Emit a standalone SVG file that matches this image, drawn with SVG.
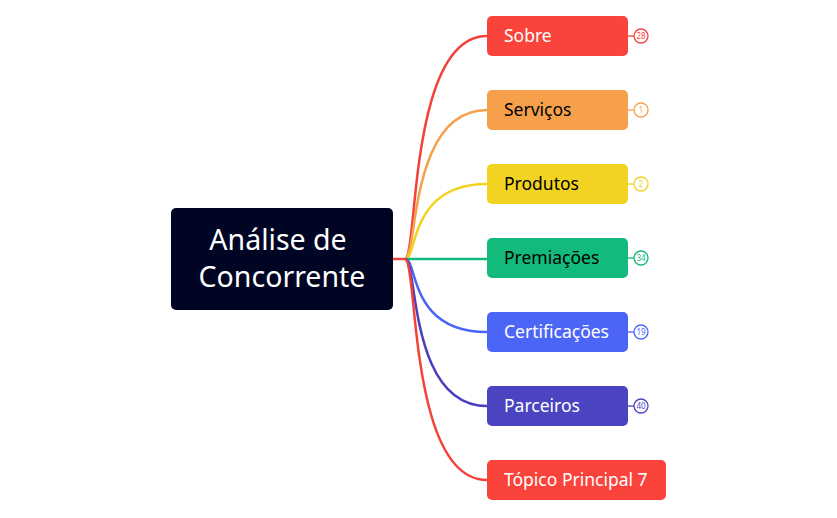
<svg xmlns="http://www.w3.org/2000/svg" width="837" height="518" viewBox="0 0 837 518">
<style>
.n{font-family:"Noto Sans",sans-serif;font-size:17.5px}
.b{fill:#fff;stroke-width:1.3}
.bt{font-family:"Noto Sans",sans-serif;font-size:8px;text-anchor:middle}
.c{fill:none;stroke-width:2.5}
</style>
<rect width="837" height="518" fill="#fff"/>
<g id="connectors">
<path class="c" stroke="#f2423a" d="M393 259H405"/>
<path class="c" stroke="#f2423a" d="M405 259C418 259 408 36 487 36"/>
<path class="c" stroke="#f5a04a" d="M405 259C418 259 408 110 487 110"/>
<path class="c" stroke="#f2d21e" d="M405 259C418 259 408 184 487 184"/>
<path class="c" stroke="#12b97a" d="M405 259H487"/>
<path class="c" stroke="#4a64f5" d="M405 259C418 259 408 332 487 332"/>
<path class="c" stroke="#4a3fbd" d="M405 259C418 259 408 406 487 406"/>
<path class="c" stroke="#f2423a" d="M405 259C418 259 408 480 487 480"/>
</g>
<g id="center"><rect x="171" y="208" width="222" height="102" rx="5" fill="#000523"/>
<text x="278" y="250" font-family="Noto Sans,sans-serif" font-size="28.5" fill="#fff" text-anchor="middle">Análise de</text>
<text x="282" y="287" font-family="Noto Sans,sans-serif" font-size="28.5" fill="#fff" text-anchor="middle">Concorrente</text></g>
<g id="n1"><rect x="487" y="16" width="141" height="40" rx="5" fill="#f9433b"/><text class="n" x="504" y="42" fill="#fff">Sobre</text>
<path d="M628 36h6" stroke="#f9433b" stroke-width="1.3"/><circle class="b" cx="641" cy="36" r="7" stroke="#f9433b"/><text class="bt" x="641" y="39" fill="#f9433b">28</text></g>
<g id="n2"><rect x="487" y="90" width="141" height="40" rx="5" fill="#f6a04c"/><text class="n" x="504" y="116" fill="#000">Serviços</text>
<path d="M628 110h6" stroke="#f6a04c" stroke-width="1.3"/><circle class="b" cx="641" cy="110" r="7" stroke="#f6a04c"/><text class="bt" x="641" y="113" fill="#f6a04c">1</text></g>
<g id="n3"><rect x="487" y="164" width="141" height="40" rx="5" fill="#f2d322"/><text class="n" x="504" y="190" fill="#000">Produtos</text>
<path d="M628 184h6" stroke="#f2d322" stroke-width="1.3"/><circle class="b" cx="641" cy="184" r="7" stroke="#f2d322"/><text class="bt" x="641" y="187" fill="#f2d322">2</text></g>
<g id="n4"><rect x="487" y="238" width="141" height="40" rx="5" fill="#12bb7b"/><text class="n" x="504" y="264" fill="#000">Premiações</text>
<path d="M628 258h6" stroke="#12bb7b" stroke-width="1.3"/><circle class="b" cx="641" cy="258" r="7" stroke="#12bb7b"/><text class="bt" x="641" y="261" fill="#12bb7b">34</text></g>
<g id="n5"><rect x="487" y="312" width="141" height="40" rx="5" fill="#4b66f6"/><text class="n" x="504" y="338" fill="#fff">Certificações</text>
<path d="M628 332h6" stroke="#4b66f6" stroke-width="1.3"/><circle class="b" cx="641" cy="332" r="7" stroke="#4b66f6"/><text class="bt" x="641" y="335" fill="#4b66f6">19</text></g>
<g id="n6"><rect x="487" y="386" width="141" height="40" rx="5" fill="#4b44c0"/><text class="n" x="504" y="412" fill="#fff">Parceiros</text>
<path d="M628 406h6" stroke="#4b44c0" stroke-width="1.3"/><circle class="b" cx="641" cy="406" r="7" stroke="#4b44c0"/><text class="bt" x="641" y="409" fill="#4b44c0">40</text></g>
<g id="n7"><rect x="487" y="460" width="179" height="40" rx="5" fill="#f9433b"/><text class="n" x="504" y="486" fill="#fff">Tópico Principal 7</text></g>
</svg>
